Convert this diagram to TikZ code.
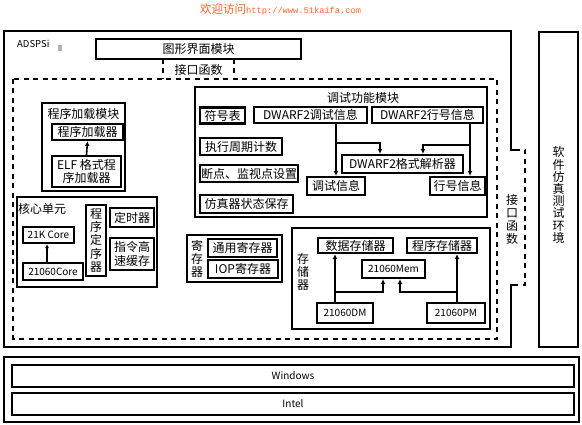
\documentclass[tikz,border=0pt]{standalone}
\usepackage{fontspec}
\setmainfont{Noto Sans CJK SC}
\newfontfamily\urlfont{Liberation Mono}
\usetikzlibrary{arrows.meta}
\tikzset{
  bx/.style={draw, line width=2.1pt, inner sep=0pt, align=center, font=\fontsize{12}{13.5}\selectfont},
  ltn/.style={draw, line width=2.1pt, inner sep=0pt, align=center, font=\fontsize{10}{11}\selectfont},
  modbox/.style={draw, line width=2.2pt, inner sep=0pt},
  lbl/.style={inner sep=0pt, align=center, font=\fontsize{12}{13.5}\selectfont},
  vlbl/.style={inner sep=0pt, align=center, font=\fontsize{12}{13}\selectfont},
  arr/.style={line width=1.6pt, -{Latex[length=5pt,width=5pt]}},
  dsh/.style={line width=2pt, dash pattern=on 5pt off 4.5pt},
  dshthin/.style={line width=1.4pt, dash pattern=on 5pt off 4.5pt},
}
\begin{document}
\begin{tikzpicture}[x=1pt,y=-1pt]
\useasboundingbox (0,0) rectangle (582,425);
% watermark
\node[anchor=west, inner sep=0pt, text={rgb,255:red,255;green,102;blue,40}] (wm) at (200,10)
  {\fontsize{11.5}{12}\selectfont 欢迎访问\urlfont\fontsize{8.7}{10}\selectfont http://www.51kaifa.com};
% outer ADSPSi box (right side interrupted by interface box)
\draw[line width=2.2pt] (515,150) -- (511,150) -- (511,31) -- (4,31) -- (4,347) -- (511,347) -- (511,285) -- (515,285);
\node[anchor=west, inner sep=0pt, font=\fontsize{9.5}{10}\selectfont] (adsp) at (17,44) {ADSPSi};
\fill[gray!60] (58,45) rectangle (62,51);
% GUI module
\node[bx, minimum width=205pt, minimum height=20pt] (gui) at (198.5,49) {图形界面模块};
% top interface
\coordinate (tifl) at (163,59);
\coordinate (tifr) at (234,59);
\draw[dsh] (tifl) -- ++(0,20);
\draw[dsh] (tifr) -- ++(0,20);
\node[lbl] (tif) at (198.5,69.5) {接口函数};
% big dashed rectangle
\draw[dsh] (13,79) rectangle (497,339);
% right interface
\draw[dshthin] (515,150) -- (525,150) -- (525,285) -- (515,285);
\node[vlbl] (rif) at (512,219) {接\\口\\函\\数};
% simulation environment
\node[draw, line width=1.2pt, minimum width=39pt, minimum height=315pt, inner sep=0pt] (env) at (558.5,189.5) {};
\node[vlbl, font=\fontsize{12}{12.2}\selectfont] (envt) at (558.5,195) {软\\件\\仿\\真\\测\\试\\环\\境};

% program loading module
\node[modbox, minimum width=83pt, minimum height=88pt] (loadmod) at (83.5,147) {};
\node[lbl] (loadt) at (83.5,113.5) {程序加载模块};
\node[bx, minimum width=71pt, minimum height=16pt] (loader) at (87.5,132) {程序加载器};
\node[bx, minimum width=69pt, minimum height=31pt, font=\fontsize{12}{13.5}\selectfont] (elf) at (86.5,171.5) {ELF 格式程\\序加载器};
\draw[arr] (elf.north) -- (loader.south);

% core unit
\node[modbox, minimum width=140pt, minimum height=90pt] (core) at (87,242) {};
\node[lbl, anchor=west] (coret) at (18,208.5) {核心单元};
\node[ltn, minimum width=51pt, minimum height=16pt] (k21) at (48.5,235) {21K Core};
\node[ltn, minimum width=60pt, minimum height=17pt] (c21) at (53,271.5) {21060Core};
\draw[line width=1.2pt, -{Latex[length=4pt,width=4pt]}] (c21.north -| 47,0) -- (k21.south -| 47,0);
\node[bx, minimum width=20pt, minimum height=71pt, font=\fontsize{12}{13.3}\selectfont] (seq) at (96,240.5) {程\\序\\定\\序\\器};
\node[bx, minimum width=44pt, minimum height=19pt] (timer) at (132,217.5) {定时器};
\node[bx, minimum width=44pt, minimum height=32pt] (cache) at (132,254) {指令高\\速缓存};

% debug module
\node[modbox, minimum width=292pt, minimum height=130pt] (debug) at (341,152) {};
\node[lbl] (debugt) at (363,97.5) {调试功能模块};
\node[bx, minimum width=45pt, minimum height=16pt] (symtab) at (222.5,115.5) {符号表};
\node[bx, minimum width=113pt, minimum height=16pt] (dwdbg) at (310.5,115) {DWARF2调试信息};
\node[bx, minimum width=111pt, minimum height=16pt] (dwline) at (427.5,115) {DWARF2行号信息};
\node[bx, minimum width=82pt, minimum height=17pt] (cycle) at (241,146.5) {执行周期计数};
\node[bx, minimum width=98pt, minimum height=17pt] (bp) at (249,173.5) {断点、监视点设置};
\node[bx, minimum width=93pt, minimum height=18pt] (state) at (246.5,204) {仿真器状态保存};
\node[bx, minimum width=121pt, minimum height=18pt] (parser) at (402.5,164) {DWARF2格式解析器};
\node[bx, minimum width=58pt, minimum height=18pt] (dbginfo) at (336,186) {调试信息};
\node[bx, minimum width=55pt, minimum height=18pt] (lineinfo) at (457.5,186) {行号信息};
\coordinate (j1) at (336,143);
\coordinate (j2) at (470,145);
\draw[arr] (dwdbg.south -| j1) -- (dbginfo.north);
\draw[arr] (j1) -| ([xshift=-22.5pt]parser.north);
\draw[arr] (dwline.south -| j2) -- (lineinfo.north -| j2);
\draw[arr] (j2) -| ([xshift=20.5pt]parser.north);

% registers
\node[draw, line width=1.8pt, minimum width=95pt, minimum height=47pt, inner sep=0pt] (reg) at (234.5,258.5) {};
\node[vlbl] (regt) at (197,258.5) {寄\\存\\器};
\node[bx, minimum width=69pt, minimum height=18pt] (gen) at (242.5,248) {通用寄存器};
\node[bx, minimum width=70pt, minimum height=18pt] (iop) at (243,269) {IOP寄存器};

% memory
\node[modbox, minimum width=198pt, minimum height=101pt] (mem) at (391,278.5) {};
\node[vlbl] (memt) at (303,272) {存\\储\\器};
\node[bx, minimum width=75pt, minimum height=15pt] (dm) at (355.5,245.5) {数据存储器};
\node[bx, minimum width=70pt, minimum height=15pt] (pm) at (442,245.5) {程序存储器};
\node[ltn, minimum width=63pt, minimum height=18pt] (mem21) at (393.5,269) {21060Mem};
\node[ltn, minimum width=56pt, minimum height=20pt] (dm21) at (345,313) {21060DM};
\node[ltn, minimum width=58pt, minimum height=20pt] (pm21) at (456,313) {21060PM};
\coordinate (j3) at (335,292);
\coordinate (j4) at (457,292);
\draw[arr] (dm21.north -| j3) -- (dm.south -| j3);
\draw[arr] (j3) -| ([xshift=-10.5pt]mem21.south);
\draw[arr] (pm21.north -| j4) -- (pm.south -| j4);
\draw[arr] (j4) -| ([xshift=6.5pt]mem21.south);

% bottom platform
\node[modbox, minimum width=575pt, minimum height=65pt] (plat) at (291.5,389.5) {};
\node[ltn, minimum width=562pt, minimum height=22pt] (win) at (293,376) {Windows};
\node[ltn, minimum width=562pt, minimum height=22pt] (intel) at (293,404) {Intel};
\end{tikzpicture}
\end{document}
